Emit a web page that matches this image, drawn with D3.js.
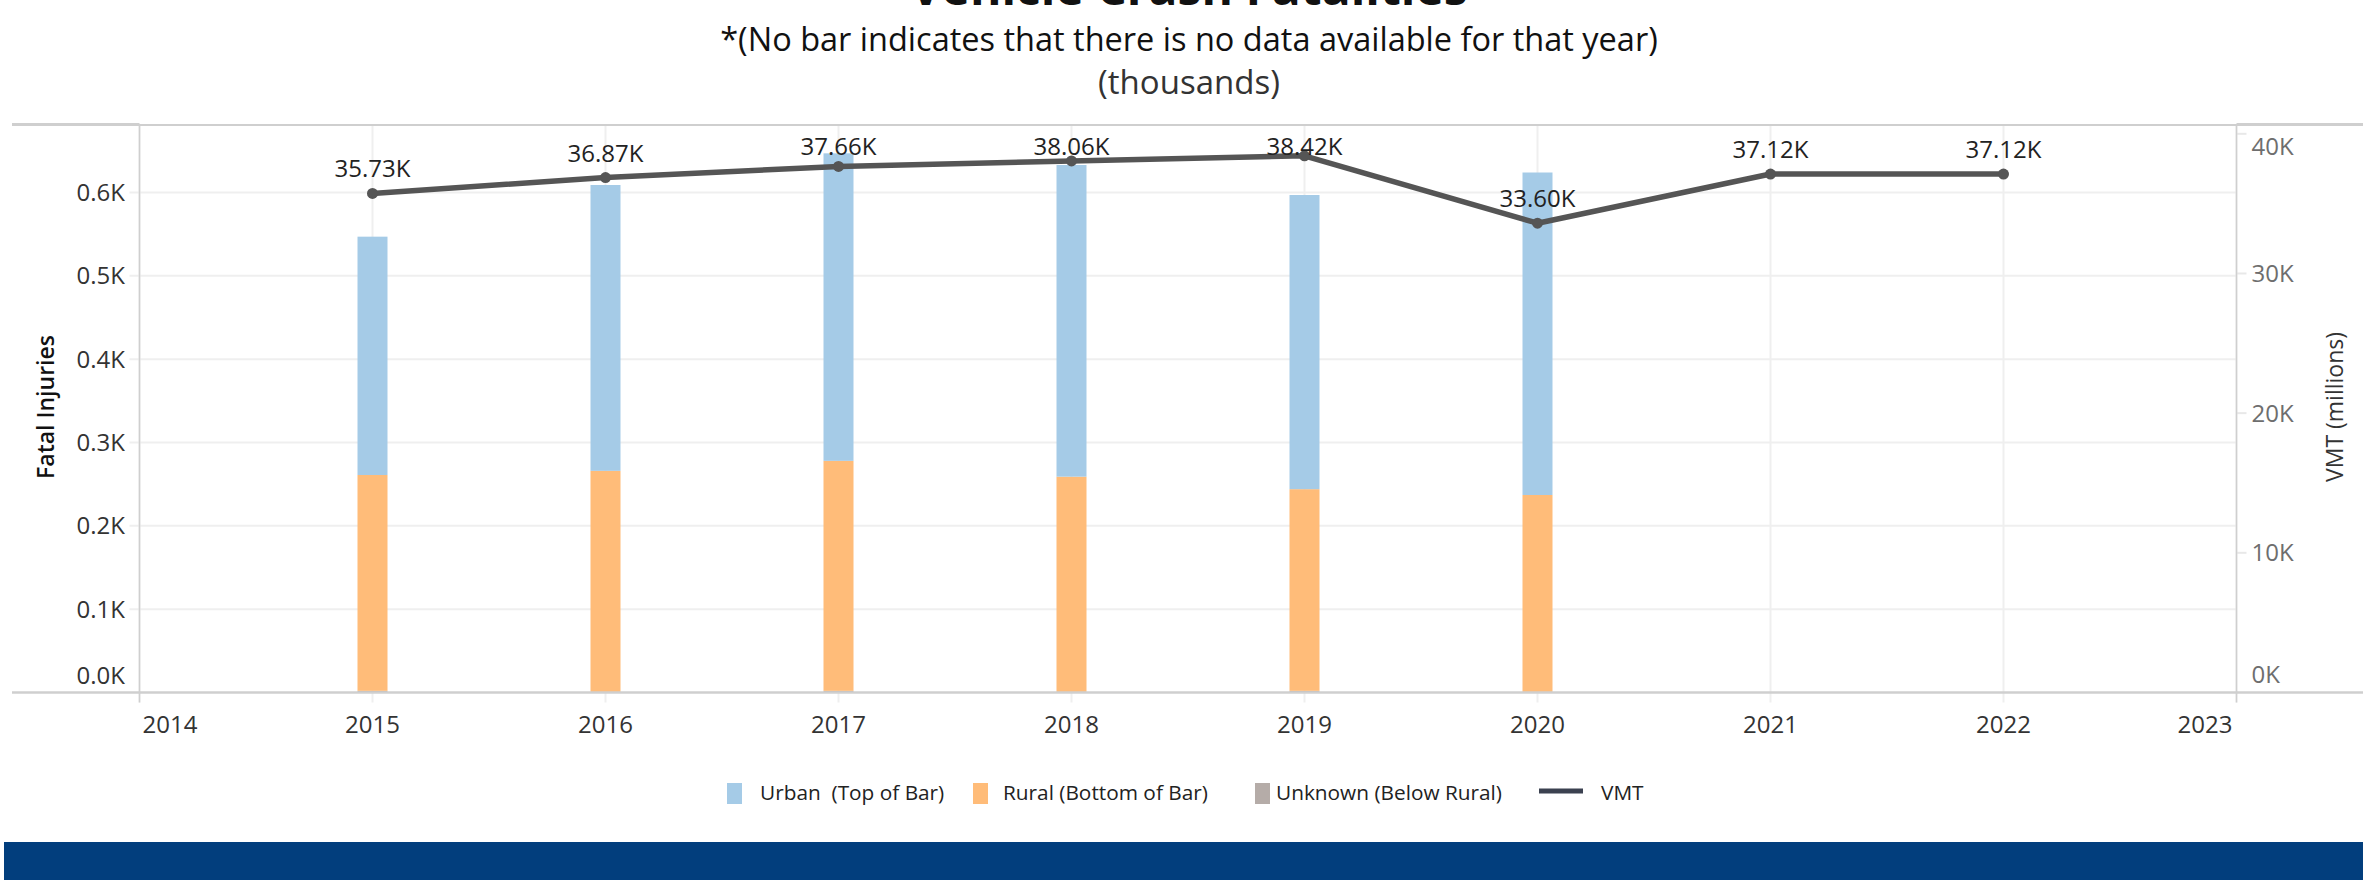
<!DOCTYPE html>
<html><head><meta charset="utf-8">
<script src="https://cdn.jsdelivr.net/npm/d3@7"></script>
<style>body{margin:0;background:#fff;overflow:hidden;} svg{display:block;}</style>
</head><body><svg id="chart" width="2363" height="880"></svg>
<script>
// ---------- data ----------
const years = [2015, 2016, 2017, 2018, 2019, 2020];
const urban = [286, 343, 369, 374, 353, 387];
const rural = [259, 266, 276, 259, 242, 237];
const unknown = [2, 0, 2, 0, 2, 0];
const vmtYears = [2015, 2016, 2017, 2018, 2019, 2020, 2021, 2022];
const vmt = [35730, 36870, 37660, 38060, 38420, 33600, 37120, 37120];
const xTickYears = [2014, 2015, 2016, 2017, 2018, 2019, 2020, 2021, 2022, 2023];
const leftTicks = [0, 100, 200, 300, 400, 500, 600];
const rightTicks = [0, 10000, 20000, 30000, 40000];
const seriesKeys = ["unknown", "rural", "urban"];
const legendLabels = ["Urban  (Top of Bar)", "Rural (Bottom of Bar)", "Unknown (Below Rural)", "VMT"];
const titleText = "Vehicle Crash Fatalities";
const subtitleText = "*(No bar indicates that there is no data available for that year)";
const unitText = "(thousands)";
const leftTitle = "Fatal Injuries";
const rightTitle = "VMT (millions)";

// ---------- layout ----------
const W = 2363, H = 880;
const P = {left: 139.5, right: 2236.5, top: 125, bottom: 692.5};
const colors = {urban: "#a5cbe7", rural: "#ffbc79", unknown: "#b5aca8", line: "#555555", legendLine: "#3b4150"};
const FONT = "'Open Sans', 'Noto Sans', sans-serif";

const svg = d3.select("#chart");
const x = d3.scaleLinear().domain([2014, 2023]).range([P.left, P.right]);
const yL = d3.scaleLinear().domain([0, 681]).range([P.bottom, P.top]);
const yR = d3.scaleLinear().domain([0, 40630]).range([P.bottom, P.top]);

// Title block (title is cropped at the top edge, as in the source)
svg.append("text").attr("x", 1189).attr("y", 5).attr("text-anchor", "middle")
  .attr("font-family", FONT).attr("font-weight", 700).attr("font-size", 48).attr("fill", "#111").text(titleText);
svg.append("text").attr("x", 1189).attr("y", 51).attr("text-anchor", "middle")
  .attr("font-family", FONT).attr("font-size", 32.5).attr("fill", "#111").text(subtitleText);
svg.append("text").attr("x", 1189).attr("y", 94).attr("text-anchor", "middle")
  .attr("font-family", FONT).attr("font-size", 33).attr("fill", "#333").text(unitText);

// Gridlines (horizontal, left scale) incl. tick stubs left of the axis
svg.append("g").selectAll("line").data(leftTicks.slice(1)).join("line")
  .attr("x1", P.left - 10).attr("x2", P.right)
  .attr("y1", d => yL(d)).attr("y2", d => yL(d))
  .attr("stroke", "#efefef").attr("stroke-width", 2);
// vertical gridlines at each year + stubs below
svg.append("g").selectAll("line").data(xTickYears).join("line")
  .attr("x1", d => x(d)).attr("x2", d => x(d))
  .attr("y1", P.top).attr("y2", P.bottom + 10)
  .attr("stroke", "#efefef").attr("stroke-width", 2);
// right axis tick stubs
svg.append("g").selectAll("line").data(rightTicks.slice(1)).join("line")
  .attr("x1", P.right).attr("x2", P.right + 10)
  .attr("y1", d => yR(d)).attr("y2", d => yR(d))
  .attr("stroke", "#e8e8e8").attr("stroke-width", 2);

// Stacked bars
const rows = years.map((yr, i) => ({year: yr, unknown: unknown[i], rural: rural[i], urban: urban[i]}));
const stacked = d3.stack().keys(seriesKeys)(rows);
const barW = 30;
svg.append("g").selectAll("g").data(stacked).join("g")
  .attr("fill", s => colors[s.key])
  .selectAll("rect").data(s => s).join("rect")
  .attr("x", d => x(d.data.year) - barW / 2)
  .attr("width", barW)
  .attr("y", d => yL(d[1]))
  .attr("height", d => Math.max(0, yL(d[0]) - yL(d[1])));

// Frame lines
const frame = svg.append("g").attr("stroke", "#cfcfcf");
frame.append("line").attr("x1", 12).attr("x2", W).attr("y1", P.top).attr("y2", P.top).attr("stroke-width", 2);
frame.append("line").attr("x1", 12).attr("x2", W).attr("y1", P.bottom).attr("y2", P.bottom).attr("stroke-width", 2.5);
frame.append("line").attr("x1", 12).attr("x2", P.left).attr("y1", P.top - 0.5).attr("y2", P.top - 0.5).attr("stroke-width", 3);
frame.append("line").attr("x1", P.right).attr("x2", W).attr("y1", P.top - 0.5).attr("y2", P.top - 0.5).attr("stroke-width", 3);
frame.append("line").attr("x1", P.left).attr("x2", P.left).attr("y1", P.top).attr("y2", P.bottom + 10).attr("stroke-width", 1.5);
frame.append("line").attr("x1", P.right).attr("x2", P.right).attr("y1", P.top).attr("y2", P.bottom + 10).attr("stroke-width", 1.5);

// VMT line
const vmtData = vmtYears.map((yr, i) => ({year: yr, v: vmt[i]}));
svg.append("path").datum(vmtData)
  .attr("fill", "none").attr("stroke", colors.line).attr("stroke-width", 5.5)
  .attr("stroke-linejoin", "round")
  .attr("d", d3.line().x(d => x(d.year)).y(d => yR(d.v)));
svg.append("g").selectAll("circle").data(vmtData).join("circle")
  .attr("cx", d => x(d.year)).attr("cy", d => yR(d.v)).attr("r", 5.5).attr("fill", colors.line);
svg.append("g").selectAll("text").data(vmtData).join("text")
  .attr("x", d => x(d.year))
  .attr("y", d => Math.max(yR(d.v) - 16, P.top + 30))
  .attr("text-anchor", "middle").attr("font-family", FONT).attr("font-size", 24).attr("fill", "#222")
  .text(d => (d.v / 1000).toFixed(2) + "K");

// Left axis labels
svg.append("g").selectAll("text").data(leftTicks).join("text")
  .attr("x", 125)
  .attr("y", d => Math.min(Math.max(yL(d), P.top + 22), P.bottom - 17))
  .attr("dy", "0.35em").attr("text-anchor", "end")
  .attr("font-family", FONT).attr("font-size", 24).attr("fill", "#333")
  .text(d => (d / 1000).toFixed(1) + "K");
// Right axis labels
svg.append("g").selectAll("text").data(rightTicks).join("text")
  .attr("x", P.right + 15)
  .attr("y", d => Math.min(Math.max(yR(d), P.top + 22), P.bottom - 18))
  .attr("dy", "0.35em").attr("text-anchor", "start")
  .attr("font-family", FONT).attr("font-size", 24).attr("fill", "#6e6e6e")
  .text(d => (d / 1000) + "K");
// X axis labels
svg.append("g").selectAll("text").data(xTickYears).join("text")
  .attr("x", (d, i) => i === 0 ? x(d) + 3 : i === xTickYears.length - 1 ? x(d) - 4 : x(d))
  .attr("y", 733)
  .attr("text-anchor", (d, i) => i === 0 ? "start" : i === xTickYears.length - 1 ? "end" : "middle")
  .attr("font-family", FONT).attr("font-size", 24).attr("fill", "#333")
  .text(d => d);

// Axis titles
svg.append("text").attr("transform", "translate(54,407) rotate(-90)")
  .attr("text-anchor", "middle").attr("font-family", FONT).attr("font-size", 23).attr("font-weight", 600)
  .attr("fill", "#111").text(leftTitle);
svg.append("text").attr("transform", "translate(2343,407) rotate(-90)")
  .attr("text-anchor", "middle").attr("font-family", FONT).attr("font-size", 23)
  .attr("fill", "#333").text(rightTitle);

// Legend
const legendLayout = [
  {swatch: 727, text: 760, kind: "urban"},
  {swatch: 973, text: 1003, kind: "rural"},
  {swatch: 1255, text: 1276, kind: "unknown"},
  {swatch: 1539, text: 1601, kind: "line"}
];
const lg = svg.append("g");
legendLayout.forEach((l, i) => {
  if (l.kind === "line") {
    lg.append("line").attr("x1", l.swatch).attr("x2", l.swatch + 44).attr("y1", 791).attr("y2", 791)
      .attr("stroke", colors.legendLine).attr("stroke-width", 5);
  } else {
    lg.append("rect").attr("x", l.swatch).attr("y", 783).attr("width", 15).attr("height", 21).attr("fill", colors[l.kind]);
  }
  lg.append("text").attr("x", l.text).attr("y", 793).attr("dy", "0.35em")
    .attr("font-family", FONT).attr("font-size", 20.8).attr("fill", "#222")
    .style("white-space", "pre").text(legendLabels[i]);
});

// Bottom banner
svg.append("rect").attr("x", 4).attr("y", 842).attr("width", W - 4).attr("height", H - 842).attr("fill", "#023e7d");
</script></body></html>
